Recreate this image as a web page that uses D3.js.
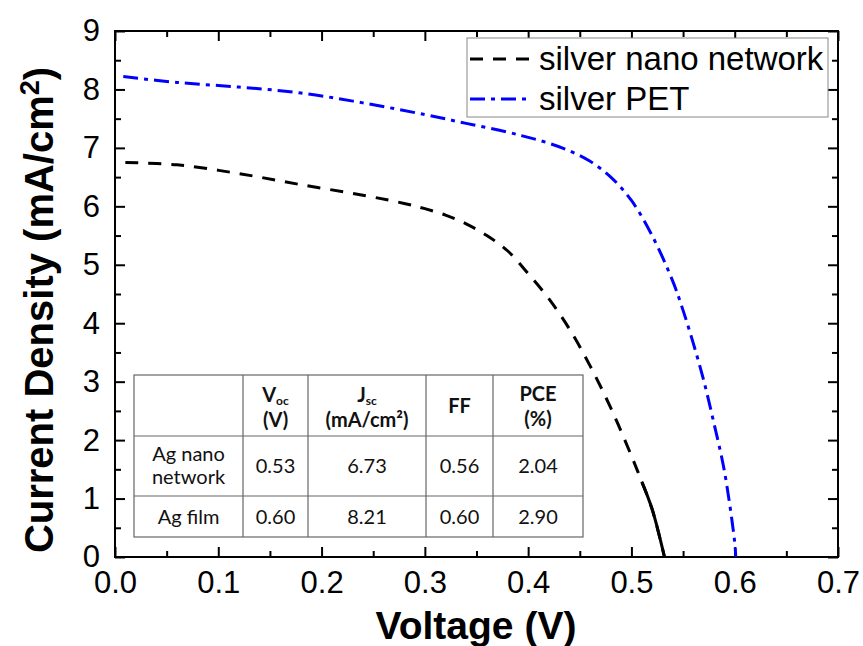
<!DOCTYPE html>
<html><head><meta charset="utf-8">
<script src="https://cdn.jsdelivr.net/npm/d3@7"></script>
<style>body{margin:0;background:#fff}</style>
</head><body><svg id="c" width="863" height="646"></svg>
<script>
// ---- data ----
const nanoV = [0.01, 0.06, 0.12, 0.18, 0.24, 0.28, 0.30, 0.32, 0.34, 0.36, 0.38, 0.40, 0.42, 0.44, 0.46, 0.48, 0.50, 0.51, 0.52, 0.532];
const nanoJ = [6.75, 6.71, 6.56, 6.37, 6.19, 6.05, 5.96, 5.85, 5.70, 5.50, 5.24, 4.85, 4.42, 3.90, 3.27, 2.55, 1.73, 1.29, 0.82, 0.0];
const petV = [0.008, 0.06, 0.12, 0.18, 0.24, 0.30, 0.34, 0.38, 0.40, 0.42, 0.44, 0.46, 0.48, 0.50, 0.52, 0.54, 0.55, 0.56, 0.57, 0.58, 0.59, 0.60, 0.601];
const petJ = [8.22, 8.12, 8.04, 7.94, 7.77, 7.57, 7.42, 7.27, 7.18, 7.08, 6.95, 6.77, 6.50, 6.10, 5.50, 4.72, 4.22, 3.65, 3.02, 2.28, 1.47, 0.25, 0.0];
const xTickValues = [0, 0.1, 0.2, 0.3, 0.4, 0.5, 0.6, 0.7];
const xMinorValues = [0.05, 0.15, 0.25, 0.35, 0.45, 0.55, 0.65];
const yTickValues = [0, 1, 2, 3, 4, 5, 6, 7, 8, 9];
const yMinorValues = [0.5, 1.5, 2.5, 3.5, 4.5, 5.5, 6.5, 7.5, 8.5];
const seriesNames = ["silver nano network", "silver PET"];
const tableRowLabels = [["Ag nano", "network"], ["Ag film"]];
const tableVoc = ["0.53", "0.60"];
const tableJsc = ["6.73", "8.21"];
const tableFF = ["0.56", "0.60"];
const tablePCE = ["2.04", "2.90"];

// ---- layout ----
const svg = d3.select("#c");
const M = {l: 115, r: 838, t: 31, b: 557};
const x = d3.scaleLinear().domain([0, 0.7]).range([M.l, M.r]);
const y = d3.scaleLinear().domain([0, 9]).range([M.b, M.t]);
const FONT = "'Liberation Sans', Arial, sans-serif";
const TFONT = "Lato, 'Open Sans', sans-serif";

function styleAxis(g) {
  g.select(".domain").remove();
  g.selectAll(".tick line").attr("stroke", "#000").attr("stroke-width", 2);
  g.selectAll("text").attr("font-family", FONT).attr("font-size", 31).attr("fill", "#000");
}
// bottom
svg.append("g").attr("transform", `translate(0,${M.b})`)
  .call(d3.axisBottom(x).tickValues(xTickValues).tickSizeInner(-10).tickSizeOuter(0).tickPadding(14).tickFormat(d3.format(".1f")))
  .call(styleAxis);
svg.append("g").attr("transform", `translate(0,${M.b})`)
  .call(d3.axisBottom(x).tickValues(xMinorValues).tickSizeInner(-6).tickSizeOuter(0).tickFormat(""))
  .call(styleAxis);
// top
svg.append("g").attr("transform", `translate(0,${M.t})`)
  .call(d3.axisTop(x).tickValues(xTickValues).tickSizeInner(-10).tickSizeOuter(0).tickFormat(""))
  .call(styleAxis);
svg.append("g").attr("transform", `translate(0,${M.t})`)
  .call(d3.axisTop(x).tickValues(xMinorValues).tickSizeInner(-6).tickSizeOuter(0).tickFormat(""))
  .call(styleAxis);
// left
svg.append("g").attr("transform", `translate(${M.l},0)`)
  .call(d3.axisLeft(y).tickValues(yTickValues).tickSizeInner(-10).tickSizeOuter(0).tickPadding(15).tickFormat(d3.format("d")))
  .call(styleAxis);
svg.append("g").attr("transform", `translate(${M.l},0)`)
  .call(d3.axisLeft(y).tickValues(yMinorValues).tickSizeInner(-6).tickSizeOuter(0).tickFormat(""))
  .call(styleAxis);
// right
svg.append("g").attr("transform", `translate(${M.r},0)`)
  .call(d3.axisRight(y).tickValues(yTickValues).tickSizeInner(-10).tickSizeOuter(0).tickFormat(""))
  .call(styleAxis);
svg.append("g").attr("transform", `translate(${M.r},0)`)
  .call(d3.axisRight(y).tickValues(yMinorValues).tickSizeInner(-6).tickSizeOuter(0).tickFormat(""))
  .call(styleAxis);
// frame
svg.append("rect").attr("x", M.l).attr("y", M.t).attr("width", M.r - M.l).attr("height", M.b - M.t)
  .attr("fill", "none").attr("stroke", "#000").attr("stroke-width", 2);

// axis titles
svg.append("text").attr("x", 476).attr("y", 639).attr("text-anchor", "middle")
  .attr("font-family", FONT).attr("font-weight", "bold").attr("font-size", 39).text("Voltage (V)");
const yt = svg.append("text").attr("transform", `translate(53,310) rotate(-90)`)
  .attr("text-anchor", "middle").attr("font-family", FONT).attr("font-weight", "bold").attr("font-size", 40);
yt.append("tspan").text("Current Density (mA/cm");
yt.append("tspan").attr("font-size", 27).attr("dy", -14).text("2");
yt.append("tspan").attr("dy", 14).text(")");

// ---- curves ----
const line = d3.line().x(d => x(d[0])).y(d => y(d[1])).curve(d3.curveCatmullRom.alpha(0.5));
const nanoPts = nanoV.map((v, i) => [v, nanoJ[i]]);
const petPts = petV.map((v, i) => [v, petJ[i]]);
svg.append("path").attr("d", line(nanoPts)).attr("fill", "none").attr("stroke", "#000")
  .attr("stroke-width", 3).attr("stroke-dasharray", "13,10");
svg.append("path").attr("d", line(nanoPts.filter(p => p[0] >= 0.51))).attr("fill", "none").attr("stroke", "#000")
  .attr("stroke-width", 3);
svg.append("path").attr("d", line(petPts)).attr("fill", "none").attr("stroke", "#0000ff")
  .attr("stroke-width", 3).attr("stroke-dasharray", "15,6,4,6");

// ---- legend ----
const lg = svg.append("g");
lg.append("rect").attr("x", 467).attr("y", 38).attr("width", 361).attr("height", 79)
  .attr("fill", "#fff").attr("stroke", "#888").attr("stroke-width", 1);
const legY = [59, 99];
const legStyle = [{c: "#000", d: "13,10"}, {c: "#0000ff", d: "15,6,4,6"}];
seriesNames.forEach((name, i) => {
  lg.append("line").attr("x1", 470).attr("x2", 532).attr("y1", legY[i]).attr("y2", legY[i])
    .attr("stroke", legStyle[i].c).attr("stroke-width", 3).attr("stroke-dasharray", legStyle[i].d);
  lg.append("text").attr("x", 539).attr("y", legY[i] + 11).attr("font-family", FONT).attr("font-size", 33)
    .attr("fill", "#000").text(name);
});

// ---- table ----
const colX = [134, 243, 308, 426, 493, 583];
const rowY = [375, 436, 496, 537];
const tb = svg.append("g");
tb.append("rect").attr("x", colX[0]).attr("y", rowY[0]).attr("width", colX[5] - colX[0]).attr("height", rowY[3] - rowY[0])
  .attr("fill", "#fff").attr("stroke", "#666").attr("stroke-width", 1.2);
colX.slice(1, 5).forEach(cx => tb.append("line").attr("x1", cx).attr("x2", cx).attr("y1", rowY[0]).attr("y2", rowY[3])
  .attr("stroke", "#666").attr("stroke-width", 1.2));
rowY.slice(1, 3).forEach(ry => tb.append("line").attr("x1", colX[0]).attr("x2", colX[5]).attr("y1", ry).attr("y2", ry)
  .attr("stroke", "#666").attr("stroke-width", 1.2));
const cc = i => (colX[i] + colX[i + 1]) / 2;
function ttext(cx, cy, bold) {
  return tb.append("text").attr("x", cx).attr("y", cy).attr("text-anchor", "middle")
    .attr("font-family", TFONT).attr("font-size", 20).attr("font-weight", bold ? "bold" : "normal").attr("fill", "#111");
}
// header
let t = ttext(cc(1), 402, true); t.append("tspan").text("V"); t.append("tspan").attr("font-size", 12).attr("dy", 3).text("oc");
ttext(cc(1), 427, true).text("(V)");
t = ttext(cc(2), 402, true); t.append("tspan").text("J"); t.append("tspan").attr("font-size", 12).attr("dy", 3).text("sc");
ttext(cc(2), 427, true).text("(mA/cm²)");
ttext(cc(3), 413, true).text("FF");
ttext(cc(4), 401, true).text("PCE");
ttext(cc(4), 426, true).text("(%)");
// body
const rowMid = [(rowY[1] + rowY[2]) / 2, (rowY[2] + rowY[3]) / 2];
tableRowLabels.forEach((lbls, r) => {
  if (lbls.length === 2) {
    ttext(cc(0), rowMid[r] - 5, false).text(lbls[0]);
    ttext(cc(0), rowMid[r] + 18, false).text(lbls[1]);
  } else {
    ttext(cc(0), rowMid[r] + 7, false).text(lbls[0]);
  }
  ttext(cc(1), rowMid[r] + 7, false).text(tableVoc[r]);
  ttext(cc(2), rowMid[r] + 7, false).text(tableJsc[r]);
  ttext(cc(3), rowMid[r] + 7, false).text(tableFF[r]);
  ttext(cc(4), rowMid[r] + 7, false).text(tablePCE[r]);
});
</script></body></html>
